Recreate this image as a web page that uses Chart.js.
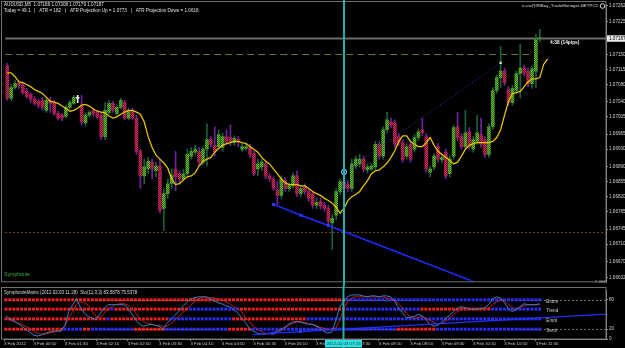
<!DOCTYPE html>
<html><head><meta charset="utf-8">
<script src="https://cdn.jsdelivr.net/npm/chart.js@4.4.1/dist/chart.umd.min.js"></script>
<style>
html,body{margin:0;padding:0;background:#000;overflow:hidden}
#wrap{position:relative;width:625px;height:348px;background:#000}
canvas{position:absolute;left:0}
#main{top:0}
#sub{top:286px}
</style></head>
<body><div id="wrap"><canvas id="main" width="625" height="286"></canvas><canvas id="sub" width="625" height="62"></canvas></div>
<script>
const symbol = 'AUDUSD', period = 'M5';
const opens = [1.07123,1.07048,1.07073,1.07084,1.07078,1.07064,1.07057,1.07046,1.07041,1.07043,
1.07020,1.07043,1.07038,1.07013,1.07009,1.07006,1.07027,1.07036,1.07048,1.07032,
1.06991,1.07009,1.07020,1.07015,1.07009,1.06959,1.07015,1.07036,1.07013,1.07027,
1.07038,1.07002,1.07020,1.07002,1.06925,1.06868,1.06884,1.06900,1.06880,1.06891,
1.06793,1.06827,1.06850,1.06884,1.06873,1.06861,1.06873,1.06914,1.06923,1.06925,
1.06900,1.06930,1.06952,1.06939,1.06936,1.06934,1.06959,1.06957,1.06945,1.06952,
1.06930,1.06932,1.06934,1.06920,1.06884,1.06889,1.06896,1.06868,1.06861,1.06836,
1.06823,1.06857,1.06839,1.06845,1.06868,1.06827,1.06843,1.06832,1.06827,1.06800,
1.06809,1.06800,1.06793,1.06759,1.06777,1.06832,1.06855,1.06848,1.06839,1.06891,
1.06896,1.06907,1.06882,1.06884,1.06889,1.06941,1.06914,1.06975,1.06993,1.06991,
1.06959,1.06945,1.06914,1.06941,1.06930,1.06957,1.06975,1.06959,1.06877,1.06889,
1.06936,1.06905,1.06923,1.06873,1.06914,1.06982,1.06959,1.06936,1.06970,1.06930,
1.06948,1.06964,1.06952,1.06918,1.06982,1.07066,1.07096,1.07111,1.07068,1.07038,
1.07066,1.07105,1.07118,1.07111,1.07082,1.07111,1.07186];
const highs = [1.07129,1.07080,1.07089,1.07089,1.07082,1.07071,1.07061,1.07052,1.07046,1.07050,
1.07048,1.07050,1.07043,1.07018,1.07013,1.07032,1.07043,1.07055,1.07055,1.07055,
1.07015,1.07020,1.07025,1.07020,1.07015,1.07038,1.07043,1.07041,1.07032,1.07048,
1.07043,1.07025,1.07025,1.07009,1.06930,1.06907,1.06911,1.06907,1.06900,1.06907,
1.06839,1.06861,1.06884,1.06925,1.06880,1.06884,1.06930,1.06934,1.06939,1.06934,
1.06936,1.06989,1.06959,1.06982,1.06975,1.06968,1.06975,1.06986,1.06961,1.06959,
1.06943,1.06943,1.06941,1.06925,1.06907,1.06907,1.06902,1.06873,1.06866,1.06855,
1.06868,1.06864,1.06852,1.06875,1.06880,1.06845,1.06850,1.06839,1.06832,1.06816,
1.06816,1.06807,1.06800,1.06779,1.06839,1.06861,1.06866,1.06857,1.06907,1.06914,
1.06918,1.06914,1.06896,1.06898,1.06948,1.06948,1.06982,1.07016,1.07002,1.06998,
1.06966,1.06952,1.06943,1.06948,1.06964,1.06977,1.07002,1.06966,1.06891,1.06920,
1.06943,1.06918,1.06930,1.06914,1.06986,1.07016,1.06966,1.07020,1.06980,1.06959,
1.07009,1.07002,1.06959,1.06989,1.07073,1.07102,1.07168,1.07118,1.07075,1.07078,
1.07111,1.07173,1.07125,1.07118,1.07123,1.07196,1.07208];
const lows = [1.07043,1.07043,1.07069,1.07071,1.07057,1.07048,1.07038,1.07032,1.07025,1.07020,
1.07015,1.07015,1.07009,1.06998,1.06996,1.07002,1.07023,1.07034,1.07038,1.06986,
1.06984,1.07004,1.07006,1.07000,1.06952,1.06952,1.07011,1.07015,1.07009,1.07023,
1.06998,1.06998,1.06998,1.06918,1.06839,1.06850,1.06873,1.06861,1.06866,1.06782,
1.06741,1.06816,1.06839,1.06834,1.06850,1.06857,1.06866,1.06907,1.06916,1.06893,
1.06893,1.06891,1.06934,1.06914,1.06930,1.06925,1.06941,1.06939,1.06939,1.06936,
1.06925,1.06927,1.06911,1.06868,1.06868,1.06880,1.06861,1.06855,1.06834,1.06800,
1.06816,1.06832,1.06832,1.06839,1.06820,1.06820,1.06825,1.06809,1.06793,1.06793,
1.06791,1.06786,1.06757,1.06698,1.06766,1.06825,1.06832,1.06832,1.06832,1.06884,
1.06889,1.06877,1.06875,1.06880,1.06882,1.06907,1.06907,1.06968,1.06980,1.06934,
1.06939,1.06900,1.06907,1.06900,1.06923,1.06950,1.06961,1.06877,1.06866,1.06882,
1.06900,1.06898,1.06861,1.06866,1.06907,1.06950,1.06930,1.06930,1.06930,1.06923,
1.06941,1.06934,1.06911,1.06911,1.06975,1.07059,1.07073,1.07078,1.07032,1.07032,
1.07059,1.07048,1.07100,1.07075,1.07071,1.07073,1.07179];
const closes = [1.07048,1.07073,1.07082,1.07078,1.07061,1.07052,1.07046,1.07036,1.07032,1.07027,
1.07043,1.07036,1.07013,1.07002,1.07002,1.07027,1.07038,1.07050,1.07048,1.06993,
1.07009,1.07015,1.07013,1.07004,1.06959,1.07020,1.07036,1.07020,1.07027,1.07043,
1.07002,1.07020,1.07002,1.06925,1.06868,1.06889,1.06902,1.06884,1.06891,1.06788,
1.06827,1.06850,1.06870,1.06866,1.06861,1.06873,1.06918,1.06925,1.06930,1.06900,
1.06930,1.06952,1.06941,1.06925,1.06964,1.06959,1.06948,1.06945,1.06955,1.06945,
1.06936,1.06936,1.06918,1.06873,1.06896,1.06900,1.06868,1.06861,1.06839,1.06823,
1.06861,1.06839,1.06845,1.06868,1.06827,1.06839,1.06832,1.06816,1.06800,1.06807,
1.06798,1.06793,1.06763,1.06770,1.06832,1.06855,1.06839,1.06839,1.06896,1.06907,
1.06907,1.06884,1.06889,1.06891,1.06941,1.06914,1.06975,1.06998,1.06986,1.06941,
1.06945,1.06907,1.06936,1.06907,1.06957,1.06970,1.06968,1.06884,1.06884,1.06914,
1.06907,1.06911,1.06868,1.06907,1.06980,1.06957,1.06936,1.06968,1.06936,1.06952,
1.06968,1.06941,1.06918,1.06982,1.07066,1.07096,1.07111,1.07084,1.07038,1.07071,
1.07105,1.07118,1.07107,1.07082,1.07116,1.07184,1.07187];
const maValues = [1.07107,1.07107,1.07098,1.07086,1.07084,1.07080,1.07075,1.07068,1.07064,1.07059,
1.07050,1.07041,1.07039,1.07036,1.07030,1.07025,1.07018,1.07020,1.07025,1.07032,
1.07034,1.07030,1.07023,1.07018,1.07016,1.07014,1.07007,1.07002,1.07005,1.07011,
1.07016,1.07020,1.07020,1.07016,1.07011,1.06993,1.06959,1.06934,1.06916,1.06907,
1.06898,1.06886,1.06861,1.06848,1.06850,1.06859,1.06866,1.06868,1.06875,1.06891,
1.06902,1.06907,1.06911,1.06923,1.06932,1.06939,1.06943,1.06945,1.06948,1.06948,
1.06945,1.06943,1.06936,1.06930,1.06923,1.06911,1.06902,1.06896,1.06884,1.06873,
1.06861,1.06852,1.06848,1.06848,1.06848,1.06845,1.06845,1.06839,1.06832,1.06827,
1.06823,1.06816,1.06811,1.06805,1.06795,1.06782,1.06793,1.06811,1.06820,1.06825,
1.06832,1.06845,1.06857,1.06873,1.06880,1.06882,1.06889,1.06898,1.06911,1.06927,
1.06948,1.06961,1.06961,1.06948,1.06941,1.06936,1.06936,1.06945,1.06957,1.06939,
1.06925,1.06918,1.06911,1.06905,1.06896,1.06900,1.06914,1.06930,1.06939,1.06943,
1.06945,1.06945,1.06945,1.06945,1.06948,1.06957,1.06975,1.07009,1.07041,1.07059,
1.07061,1.07064,1.07075,1.07086,1.07093,1.07093,1.07096,1.07127,1.07139];
const priceTicks = [1.07262,1.07225,1.07150,1.07115,1.07080,1.07040,1.07005,1.06965,1.06930,1.06890,1.06855,1.06820,1.06785,1.06745,1.06710,1.06670,1.06632];
const timeTickBars = [-0.5,7,15,23,31,39,47,55,63,71,79,87,95,103,111,119,127,135];
const timeTickLabels = ['3 Feb 2012','3 Feb 00:50','3 Feb 01:30','3 Feb 02:10','3 Feb 02:50','3 Feb 03:30','3 Feb 04:10','3 Feb 04:50','3 Feb 05:30','3 Feb 06:10','3 Feb 06:50','3 Feb 07:30','3 Feb 08:10','3 Feb 08:50','3 Feb 09:30','3 Feb 10:10','3 Feb 10:50','3 Feb 11:30'];
const stochMain = [48,40,38,32,26,20,14,8,6,8,12,14,16,16,16,28,56,70,82,64,52,46,42,40,52,62,70,70,70,70,
70,64,52,40,30,26,28,30,28,26,20,32,40,48,56,66,74,82,84,86,86,86,82,78,74,72,68,66,60,54,
44,34,22,16,12,10,10,12,12,16,20,24,30,34,36,34,32,30,30,26,22,16,12,14,36,64,78,86,90,90,
90,88,86,88,88,86,88,88,86,78,64,54,44,44,46,50,48,40,30,26,28,34,42,48,56,62,66,64,62,60,
62,62,64,70,82,86,84,74,62,56,60,66,72,70,70,70,72];
const stochSignal = [44,38,36,32,30,26,22,16,12,10,10,12,14,16,18,26,44,56,72,76,74,68,56,46,44,52,62,66,70,72,
72,70,62,54,42,36,32,30,28,28,26,26,32,38,46,54,60,68,76,82,86,86,84,84,82,80,76,72,66,62,
56,44,36,26,20,16,12,10,12,14,16,22,28,32,34,36,34,32,30,28,24,22,20,20,22,36,60,76,84,86,
86,86,86,86,86,86,86,84,82,78,72,64,52,46,42,44,46,42,38,34,30,32,36,42,50,56,60,62,62,60,
60,60,62,64,70,76,80,78,70,64,60,64,68,70,70,70,70];
const stochTicks = [0,20,80];
const rowNames = ['Extrm','Trend','Emot','Senti'];
const rowLevels = [80,61,41,20];
const rowRuns = [
  [['R',87],['B',50]],
  [['R',27],['B',1],['R',19],['B',13],['R',27],['B',19],['R',18],['B',13]],
  [['R',26],['B',1],['R',15],['B',16],['R',19],['B',60]],
  [['R',15],['B',5],['R',2],['B',11],['R',8],['B',16],['R',6],['B',37],['R',10],['B',27]]
];
const pendingLevel = 1.0715, supportLevel = 1.06739;
const trendMain = [{bar:68,price:1.06802},{bar:75,price:1.06777},{bar:82,price:1.06753},{bar:120,price:1.06620}];
const projLine = [{bar:86,price:1.06877},{bar:126,price:1.07130}];
const subTrend = [{bar:63,value:9},{bar:68,value:11.5},{bar:75,value:15},{bar:153,value:51}];
const cyanBar = 86, cyanLabel = '2012.02.03 07:25';
const headerLine2 = 'Today = 49.1   |   ATR = 182   |   ATR Projection Up = 1.0773   |   ATR Projection Down = 1.0618';
const timerText = '4:38 (14pips)';
const accountText = 'e.sro@99Bay_TradeManager-BETPC2';
const indicatorTitle = 'SymphonieMatrix (2012.02.03 11:28)  Sto(11,3,3) 83.5878 75.5378';

const FONT = '"Liberation Sans", "DejaVu Sans", sans-serif';
function checker(c1, c2){
  const cv = document.createElement('canvas'); cv.width = 2; cv.height = 2;
  const g = cv.getContext('2d');
  g.fillStyle = c2; g.fillRect(0,0,2,2);
  g.fillStyle = c1; g.fillRect(0,0,1,1); g.fillRect(1,1,1,1);
  return document.getElementById('main').getContext('2d').createPattern(cv, 'repeat');
}
const BULL = checker('#62c232', '#2f6a1c'), BEAR = checker('#e02a66', '#6a1430'), DOJI = '#f0f0f0';
const BULLW = '#1d5e3e', BEARW = '#6e22a0';
const X_MIN = -0.51, X_MAX = 152.9;
const N = closes.length;
const dir = i => closes[i] > opens[i] ? 1 : (closes[i] < opens[i] ? -1 : 0);

function hline(g, x1, x2, y, color, dash, w){
  g.save(); g.strokeStyle = color; g.lineWidth = w; g.setLineDash(dash);
  g.beginPath(); g.moveTo(x1, Math.round(y)+0.5); g.lineTo(x2, Math.round(y)+0.5); g.stroke(); g.restore();
}
function text(g, s, x, y, color, size, align, weight){
  g.save(); g.fillStyle = color; g.font = (weight||'normal') + ' ' + size + 'px ' + FONT;
  g.textAlign = align || 'left'; g.textBaseline = 'middle'; g.fillText(s, x, y); g.restore();
}

const mainDecor = {
  id: 'mainDecor',
  beforeDraw(c){ const g=c.ctx; g.save(); g.fillStyle='#000'; g.fillRect(0,0,c.width,c.height); g.restore(); },
  beforeDatasetsDraw(c){
    const g=c.ctx, a=c.chartArea, ys=c.scales.y, xs=c.scales.x;
    hline(g, a.left, a.right, ys.getPixelForValue(supportLevel), '#7a4418', [2,2], 1);
    hline(g, a.left, xs.getPixelForValue(N-3), ys.getPixelForValue(pendingLevel), '#5d7d28', [7,4], 1);
    hline(g, a.left, a.right, ys.getPixelForValue(closes[N-1]), '#6c6c6c', [], 2);
  },
  afterDatasetsDraw(c){
    const g=c.ctx, a=c.chartArea, ys=c.scales.y, xs=c.scales.x;
    g.save(); g.strokeStyle='#707070'; g.lineWidth=1; g.strokeRect(1.5,1.5,a.right-1.5,a.bottom-0.5); g.restore();
    const cx = xs.getPixelForValue(cyanBar);
    g.save(); g.fillStyle='#22b0aa'; g.fillRect(cx-1,0,2,c.height); g.restore();
    text(g, symbol+','+period+'  '+[opens[N-1],highs[N-1],lows[N-1],closes[N-1]].map(v=>v.toFixed(5)).join(' '), 4, 5, '#e0e0e0', 4.6);
    text(g, headerLine2, 4, 10.5, '#e0e0e0', 4.6);
    text(g, timerText, 550, 43, '#f0f0f0', 4.8, 'left', 'bold');
    text(g, accountText, 598, 6, '#d8d8d8', 4.4, 'right');
    g.save(); g.strokeStyle='#d8d8d8'; g.lineWidth=1; g.beginPath(); g.arc(602.5,6,2.3,0,Math.PI*2); g.stroke(); g.restore();
    text(g, 'Symphonie', 4, 275, '#3fae3f', 5.2);
    text(g, '\u00a9 2011', 595, 281.5, '#c0c0c0', 3.8);
    const py = ys.getPixelForValue(closes[N-1]);
    g.save(); g.fillStyle='#e8e8e8'; g.fillRect(607,py-3,18,6.5); g.restore();
    text(g, closes[N-1].toFixed(5), 609, py+0.3, '#000', 4.6);
  }
};

new Chart(document.getElementById('main'), {
  type: 'bar',
  data: { datasets: [
    { type:'line', data: trendMain.map(p=>({x:p.bar,y:p.price})), borderColor:'#1e2cff', borderWidth:1.5,
      pointStyle:'rect', pointRadius: ctx => ctx.dataIndex < 3 ? 2.1 : 0, pointBackgroundColor:'#2a3cff', pointBorderWidth:0, order:0 },
    { type:'line', data: projLine.map(p=>({x:p.bar,y:p.price})), borderColor:'#3434c0', borderWidth:1, borderDash:[1,2],
      pointStyle: ['circle','rect'], pointRadius:[2.4,1.6], pointBorderColor:['#6ab8ff','#e8e8a0'], pointBackgroundColor:['#000','#e8e8a0'], pointBorderWidth:[1.2,0], order:0 },
    { type:'line', data: maValues.map((v,i)=>({x:i,y:v})), borderColor:'#e6c200', borderWidth:1.3, pointRadius:0, tension:0, order:1 },
    { data: opens.map((o,i)=>({x:i,y:[o,closes[i]]})), barThickness:3, minBarLength:1, grouped:false, order:2,
      backgroundColor: ctx => { const i=ctx.dataIndex; if(i==null) return '#52a52c'; const d=dir(i); return d>0?BULL:(d<0?BEAR:DOJI); } },
    { data: lows.map((l,i)=>({x:i,y:[l,highs[i]]})), barThickness:1, grouped:false, order:3,
      backgroundColor: ctx => { const i=ctx.dataIndex; if(i==null) return BULLW; const d=dir(i); return d>0?BULLW:(d<0?BEARW:DOJI); } }
  ]},
  options: {
    responsive:false, animation:false, events:[],
    layout:{padding:{left:3,top:3,right:0,bottom:2}},
    plugins:{legend:{display:false}, tooltip:{enabled:false}},
    scales:{
      x:{type:'linear', min:X_MIN, max:X_MAX, offset:false, display:false},
      y:{position:'right', min:1.06625, max:1.072637,
         afterFit: s => { s.width = 19; },
         afterBuildTicks: s => { s.ticks = priceTicks.map(v=>({value:v})); },
         ticks:{autoSkip:false, padding:1, color:'#d0d0d0', font:{family:FONT, size:4.6}, callback: v => Number(v).toFixed(5)},
         grid:{display:true, drawOnChartArea:false, drawTicks:true, tickLength:2, color:'#909090'},
         border:{display:true, color:'#909090'}}
    }
  },
  plugins:[mainDecor]
});

const rowColorsList = rowRuns.map(runs => { const out=[]; runs.forEach(([c,n])=>{ for(let k=0;k<n;k++) out.push(c==='B'?'#2c2cf0':'#f02020'); }); return out; });

const subDecor = {
  id:'subDecor',
  beforeDraw(c){ const g=c.ctx; g.save(); g.fillStyle='#000'; g.fillRect(0,0,c.width,c.height); g.restore(); },
  beforeDatasetsDraw(c){
    const g=c.ctx, a=c.chartArea, ys=c.scales.y;
    [80,20].forEach(v => hline(g, a.left, a.right, ys.getPixelForValue(v), '#6a6a6a', [2,2], 1));
  },
  afterDatasetsDraw(c){
    const g=c.ctx, a=c.chartArea, ys=c.scales.y, xs=c.scales.x;
    g.save(); g.strokeStyle='#707070'; g.lineWidth=1; g.strokeRect(1.5,1.5,a.right-1.5,a.bottom-1.5); g.restore();
    text(g, indicatorTitle, 4, 7, '#d8d8d8', 4.5);
    const lx = xs.getPixelForValue(N+0.7);
    rowNames.forEach((n,r) => text(g, n, lx, ys.getPixelForValue(rowLevels[r])+1.5, '#d0d0d0', 4.6));
    const cx = xs.getPixelForValue(cyanBar);
    g.save(); g.fillStyle='#22b0aa'; g.fillRect(cx-1,0,2,c.height); 
    g.fillStyle='#30e0e0'; g.fillRect(cx-18.5, a.bottom+1, 37, 7.5); g.restore();
    text(g, cyanLabel, cx, a.bottom+4.8, '#103040', 4.4, 'center');
  }
};

new Chart(document.getElementById('sub'), {
  type:'line',
  data:{ datasets:[
    { data: subTrend.map(p=>({x:p.bar,y:p.value})), borderColor:'#2030ff', borderWidth:1.2, pointStyle:'rect',
      pointRadius: ctx => (ctx.dataIndex===1||ctx.dataIndex===2) ? 2.1 : 0, pointBackgroundColor:'#2a3cff', pointBorderWidth:0, order:0 },
    { data: stochMain.map((v,i)=>({x:i,y:v})), borderColor:'#3d7fc2', borderWidth:1, pointRadius:0, order:1 },
    { data: stochSignal.map((v,i)=>({x:i,y:v})), borderColor:'#b82020', borderWidth:1, pointRadius:0, order:2 },
    ...rowColorsList.map((cols,r) => ({ data: cols.map((c,i)=>({x:i,y:rowLevels[r]})), showLine:false, pointStyle:'rect',
      pointRadius:2.1, pointBorderWidth:0, pointBackgroundColor: cols, order:5 }))
  ]},
  options:{
    responsive:false, animation:false, events:[],
    layout:{padding:{left:3,top:2,right:0,bottom:0}},
    plugins:{legend:{display:false}, tooltip:{enabled:false}},
    scales:{
      x:{type:'linear', min:X_MIN, max:X_MAX, offset:false,
         afterFit: s => { s.height = 9; },
         afterBuildTicks: s => { s.ticks = timeTickBars.map(v=>({value:v})); },
         ticks:{autoSkip:false, maxRotation:0, minRotation:0, align:'start', padding:0, color:'#c8c8c8', font:{family:FONT, size:4.3},
                callback:(v,i) => timeTickLabels[i]},
         grid:{display:true, drawOnChartArea:false, drawTicks:true, tickLength:2, color:'#909090'},
         border:{display:true, color:'#909090'}},
      y:{position:'right', min:0, max:100,
         afterFit: s => { s.width = 19; },
         afterBuildTicks: s => { s.ticks = stochTicks.map(v=>({value:v})); },
         ticks:{autoSkip:false, padding:1, color:'#d0d0d0', font:{family:FONT, size:4.6}, callback: v => String(v)},
         grid:{display:true, drawOnChartArea:false, drawTicks:true, tickLength:2, color:'#909090'},
         border:{display:true, color:'#909090'}}
    }
  },
  plugins:[subDecor]
});
</script></body></html>
